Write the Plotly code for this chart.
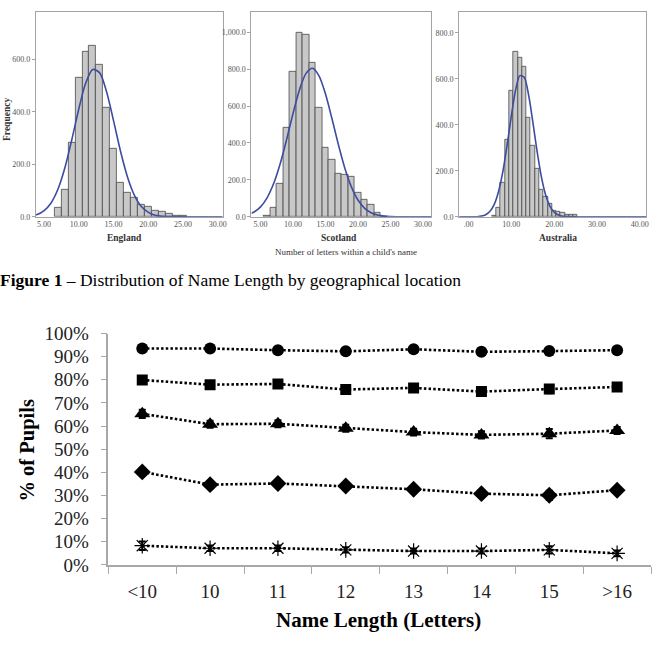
import plotly.graph_objects as go

# ---------------- data: histograms ----------------
eng_bins = [7, 8, 9, 10, 11, 12, 13, 14, 15, 16, 17, 18, 19, 20, 21, 22, 23, 24, 25]
eng_freq = [34, 102, 283, 530, 631, 651, 581, 417, 259, 130, 90, 71, 45, 38, 24, 20, 11, 5, 4]
eng_curve_x = [3.8, 4, 5, 6, 7, 8, 9, 10, 11, 12, 13, 14, 15, 16, 17, 18, 19, 20, 21, 22, 23, 24, 26, 28, 30, 30.7]
eng_curve_y = [8, 9, 24, 53, 106, 188, 296, 412, 511, 562, 549, 476, 366, 250, 152, 82, 39, 17, 6, 2, 0.6, 0.2, 0, 0, 0, 0]

sco_bins = [6, 7, 8, 9, 10, 11, 12, 13, 14, 15, 16, 17, 18, 19, 20, 21, 22, 23, 24]
sco_freq = [5, 50, 181, 483, 785, 998, 986, 833, 589, 375, 309, 233, 228, 217, 133, 93, 66, 23, 3]
sco_curve_x = [3.6, 4, 5, 6, 7, 8, 9, 10, 11, 12, 13, 14, 15, 16, 17, 18, 19, 20, 21, 22, 23, 24, 25, 26, 27, 29, 31.3]
sco_curve_y = [19, 26, 54, 103, 179, 285, 417, 560, 689, 777, 805, 764, 665, 531, 389, 261, 161, 91, 47, 22, 10, 4, 1.4, 0.5, 0.2, 0, 0]

aus_bins = [6, 7, 8, 9, 10, 11, 12, 13, 14, 15, 16, 17, 18, 19, 20, 21, 22, 23, 24, 25]
aus_freq = [6, 40, 150, 334, 548, 718, 690, 654, 432, 308, 209, 118, 86, 58, 26, 22, 19, 10, 7, 7]
aus_curve_x = [-2.2, 0, 2, 3, 4, 5, 6, 7, 8, 9, 10, 11, 12, 13, 14, 15, 16, 17, 18, 19, 20, 21, 22, 23, 24, 26, 30, 35, 41.5]
aus_curve_y = [0, 0, 0.5, 3, 9, 24, 54, 110, 196, 312, 440, 552, 614, 607, 533, 415, 287, 176, 96, 47, 20, 8, 2.6, 0.8, 0.2, 0, 0, 0, 0]

eng_yticks = [0, 200, 400, 600]
eng_yticktext = ["0.0", "200.0", "400.0", "600.0"]
sco_yticks = [0, 200, 400, 600, 800, 1000]
sco_yticktext = ["0.0", "200.0", "400.0", "600.0", "800.0", "1,000.0"]
aus_yticks = [0, 200, 400, 600, 800]
aus_yticktext = ["0.0", "200.0", "400.0", "600.0", "800.0"]
hist_xticks = [5, 10, 15, 20, 25, 30]
hist_xticktext = ["5.00", "10.00", "15.00", "20.00", "25.00", "30.00"]
aus_xticks = [0, 10, 20, 30, 40]
aus_xticktext = [".00", "10.00", "20.00", "30.00", "40.00"]

# ---------------- data: line chart ----------------
categories = ["<10", "10", "11", "12", "13", "14", "15", ">16"]
s_circle = [93.5, 93.5, 92.8, 92.3, 93.2, 92.1, 92.4, 92.8]
s_square = [79.9, 77.9, 78.2, 75.8, 76.5, 74.9, 76.0, 76.9]
s_triangle = [65.3, 60.8, 61.0, 59.1, 57.4, 56.2, 56.7, 58.1]
s_diamond = [40.2, 34.7, 35.2, 34.1, 32.7, 30.8, 30.1, 32.3]
s_star = [8.3, 7.2, 7.2, 6.5, 6.0, 6.0, 6.5, 5.0]
e_circle = [0.8, 0.8, 0.8, 0.8, 0.8, 0.8, 0.8, 0.8]
e_square = [1.0, 1.0, 1.0, 1.0, 1.0, 1.2, 1.8, 1.0]
e_triangle = [1.8, 1.5, 1.5, 1.5, 1.5, 1.6, 2.0, 1.5]
e_diamond = [1.5, 1.4, 1.2, 1.2, 1.4, 1.5, 2.0, 1.2]
e_star = [1.8, 1.2, 1.2, 1.1, 1.1, 1.1, 1.6, 1.2]

SERIF = "Liberation Serif"
BAR_FILL = "#c8c8c8"
BAR_LINE = "#474747"
CURVE = "#3d4ca0"
FRAME = "#a3a3a3"

fig = go.Figure()

def add_hist(bins, freq, cx, cy, xa, ya):
    fig.add_trace(go.Bar(x=bins, y=freq, width=1, xaxis=xa, yaxis=ya,
                         marker=dict(color=BAR_FILL, line=dict(color=BAR_LINE, width=0.8)),
                         showlegend=False, hoverinfo="skip"))
    fig.add_trace(go.Scatter(x=cx, y=cy, mode="lines", xaxis=xa, yaxis=ya,
                             line=dict(color=CURVE, width=1.6, shape="spline", smoothing=0.8),
                             showlegend=False, hoverinfo="skip"))

add_hist(eng_bins, eng_freq, eng_curve_x, eng_curve_y, "x", "y")
add_hist(sco_bins, sco_freq, sco_curve_x, sco_curve_y, "x2", "y2")
add_hist(aus_bins, aus_freq, aus_curve_x, aus_curve_y, "x3", "y3")

def add_series(vals, errs, symbol, size, lw=0):
    fig.add_trace(go.Scatter(
        x=categories, y=vals, xaxis="x4", yaxis="y4", mode="lines+markers",
        line=dict(color="black", width=2.6, dash="2.5px,2.2px"),
        marker=dict(symbol=symbol, size=size, color="black",
                    line=dict(color="black", width=lw)),
        error_y=dict(type="data", array=errs, visible=True, color="black",
                     thickness=2, width=3.5),
        showlegend=False, hoverinfo="skip"))

add_series(s_circle, e_circle, "circle", 12)
add_series(s_square, e_square, "square", 11)
add_series(s_triangle, e_triangle, "triangle-up", 14)
add_series(s_diamond, e_diamond, "diamond", 13)
add_series(s_star, e_star, "asterisk-open", 13, lw=1.2)

# the page is photographed with a small vertical offset/scale; compensate
V_SCALE = 0.975
V_OFF = 8.25

def W(px):
    return px / 660.0

def H(py):
    return 1 - ((py - V_OFF) / V_SCALE) / 663.0

tickfont_small = dict(family=SERIF, size=8, color="#555555")
hist_y_common = dict(showline=True, mirror=True, linecolor=FRAME, linewidth=1,
                     ticks="outside", ticklen=3, tickcolor=FRAME, tickfont=tickfont_small,
                     showgrid=False, zeroline=False)
hist_x_common = dict(showline=True, mirror=True, linecolor=FRAME, linewidth=1,
                     ticks="", tickfont=tickfont_small, showgrid=False, zeroline=False)

fig.update_layout(
    width=660, height=663, margin=dict(l=0, r=0, t=0, b=0),
    paper_bgcolor="white", plot_bgcolor="white", bargap=0,
    xaxis=dict(domain=[W(36), W(224)], range=[3.8, 30.7], anchor="y",
               tickvals=hist_xticks, ticktext=hist_xticktext, **hist_x_common),
    yaxis=dict(domain=[H(216.5), H(10)], range=[0, 782], anchor="x",
               tickvals=eng_yticks, ticktext=eng_yticktext, **hist_y_common),
    xaxis2=dict(domain=[W(253), W(434)], range=[3.6, 31.3], anchor="y2",
                tickvals=hist_xticks, ticktext=hist_xticktext, **hist_x_common),
    yaxis2=dict(domain=[H(216.5), H(10)], range=[0, 1111], anchor="x2",
                tickvals=sco_yticks, ticktext=sco_yticktext, **hist_y_common),
    xaxis3=dict(domain=[W(462), W(650)], range=[-2.2, 41.5], anchor="y3",
                tickvals=aus_xticks, ticktext=aus_xticktext, **hist_x_common),
    yaxis3=dict(domain=[H(216.5), H(10)], range=[0, 892], anchor="x3",
                tickvals=aus_yticks, ticktext=aus_yticktext, **hist_y_common),
    xaxis4=dict(domain=[W(109), W(655)], range=[-0.5, 7.5], anchor="y4",
                type="category", tickson="boundaries", ticks="outside", ticklen=7,
                tickcolor="#a8a8a8", tickwidth=1.2, showline=True, linecolor="#a8a8a8",
                linewidth=1.5, showgrid=False, zeroline=False,
                tickfont=dict(family=SERIF, size=19, color="#222222"),
                ticklabelstandoff=9),
    yaxis4=dict(domain=[H(567), H(334)], range=[0, 100], anchor="x4",
                tickvals=[0, 10, 20, 30, 40, 50, 60, 70, 80, 90, 100],
                ticktext=["0%", "10%", "20%", "30%", "40%", "50%", "60%", "70%", "80%", "90%", "100%"],
                ticks="outside", ticklen=6, tickcolor="#a8a8a8", tickwidth=1.2,
                showline=True, linecolor="#a8a8a8", linewidth=1.5, showgrid=False,
                zeroline=False, tickfont=dict(family=SERIF, size=19, color="#222222"),
                ticklabelstandoff=8),
)

annotations = [
    dict(text="<b>Frequency</b>", x=W(7), y=H(118), textangle=-90,
         font=dict(family=SERIF, size=9.5, color="#333333")),
    dict(text="<b>England</b>", x=W(125), y=H(238),
         font=dict(family=SERIF, size=9.5, color="#333333")),
    dict(text="<b>Scotland</b>", x=W(341), y=H(238),
         font=dict(family=SERIF, size=9.5, color="#333333")),
    dict(text="<b>Australia</b>", x=W(561), y=H(238),
         font=dict(family=SERIF, size=9.5, color="#333333")),
    dict(text="Number of letters within a child's name", x=W(348), y=H(252),
         font=dict(family=SERIF, size=9, color="#333333")),
    dict(text="<b>Figure 1</b> \u2013 Distribution of Name Length by geographical location",
         x=W(-2), y=H(280), xanchor="left",
         font=dict(family=SERIF, size=17.5, color="#000000")),
    dict(text="<b>Name Length (Letters)</b>", x=W(381), y=H(622),
         font=dict(family=SERIF, size=21, color="#000000")),
    dict(text="<b>% of Pupils</b>", x=W(28), y=H(451), textangle=-90,
         font=dict(family=SERIF, size=20.5, color="#000000")),
]
for a in annotations:
    a.setdefault("xanchor", "center")
    a.update(xref="paper", yref="paper", showarrow=False, yanchor="middle")
fig.update_layout(annotations=annotations)

fig.write_html("out.html")
